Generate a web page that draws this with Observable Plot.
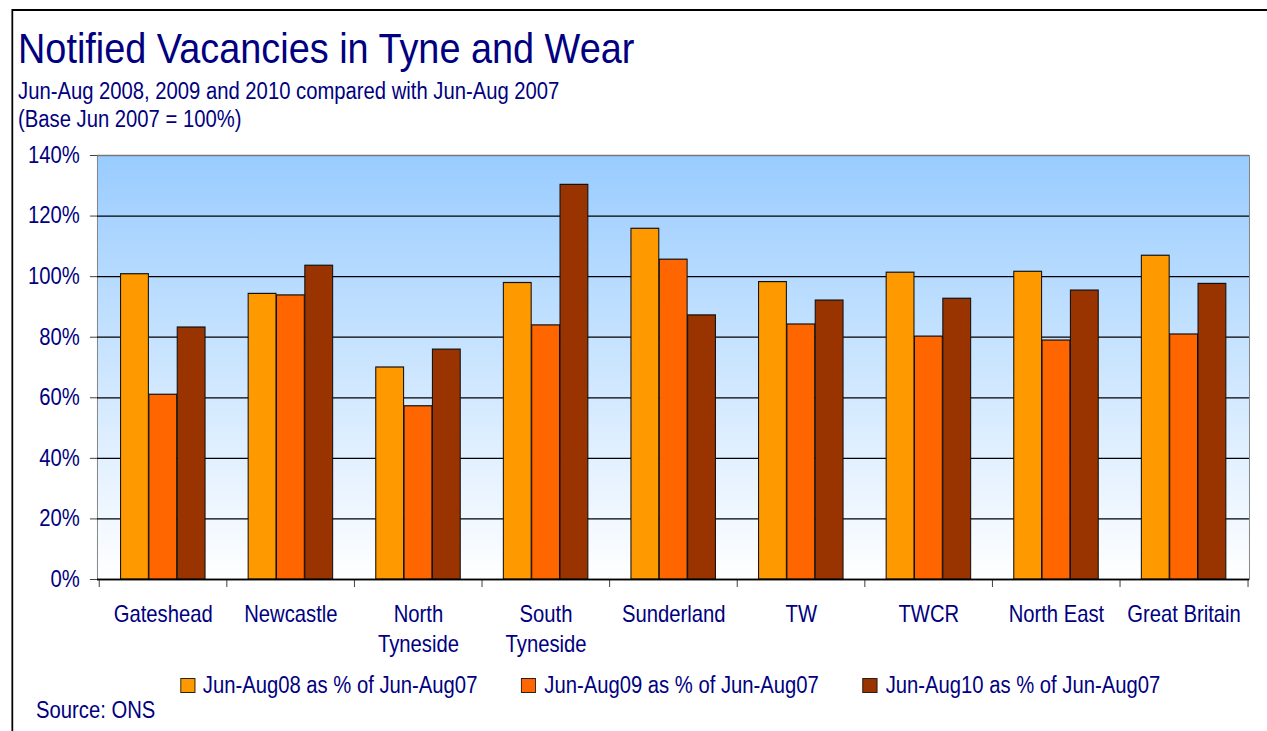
<!DOCTYPE html>
<html>
<head>
<meta charset="utf-8">
<script src="https://cdn.jsdelivr.net/npm/d3@7"></script>
<script src="https://cdn.jsdelivr.net/npm/@observablehq/plot@0.6"></script>
<style>
  html, body { margin: 0; padding: 0; background: #fff; overflow: hidden; }
  #page { position: relative; width: 1440px; height: 731px; transform: scaleX(0.88); transform-origin: 0 0;
          font-family: "Liberation Sans", Arial, sans-serif; color: #000080; }
  .abs { position: absolute; white-space: nowrap; }
  #frameTop { position: absolute; left: 13.6px; top: 9px; right: 0; height: 0; border-top: 2px solid #000; }
  #frameLeft { position: absolute; left: 13px; top: 9px; bottom: 0; width: 0; border-left: 2px solid #000; }
  #title { left: 20.5px; top: 26.6px; font-size: 43px; line-height: 43px; }
  #sub1 { left: 20.5px; top: 79.5px; font-size: 23px; line-height: 23px; }
  #sub2 { left: 20.5px; top: 107.5px; font-size: 23px; line-height: 23px; }
  #chart { position: absolute; left: 0; top: 135px; }
  #legend { position: absolute; left: 204.5px; top: 673.5px; display: flex; gap: 50px; font-size: 23px; line-height: 23px; }
  .item { display: flex; align-items: center; gap: 9px; }
  .sw { width: 15px; height: 13px; border: 1px solid #222; }
  #source { left: 41px; top: 698.5px; font-size: 23px; line-height: 23px; }
</style>
</head>
<body>
<svg width="0" height="0" style="position:absolute">
  <defs>
    <linearGradient id="bggrad" x1="0" y1="0" x2="0" y2="1">
      <stop offset="0%" stop-color="#99CCFF"/>
      <stop offset="100%" stop-color="#FFFFFF"/>
    </linearGradient>
  </defs>
</svg>
<div id="page">
  <div id="frameTop"></div>
  <div id="frameLeft"></div>
  <div id="title" class="abs">Notified Vacancies in Tyne and Wear</div>
  <div id="sub1" class="abs">Jun-Aug 2008, 2009 and 2010 compared with Jun-Aug 2007</div>
  <div id="sub2" class="abs">(Base Jun 2007 = 100%)</div>
  <div id="chart"></div>
  <div id="legend"></div>
  <div id="source" class="abs">Source: ONS</div>
</div>
<script>
// ---- data ----
const categories = ["Gateshead", "Newcastle", "North\nTyneside", "South\nTyneside", "Sunderland", "TW", "TWCR", "North East", "Great Britain"];
const seriesNames = ["Jun-Aug08 as % of Jun-Aug07", "Jun-Aug09 as % of Jun-Aug07", "Jun-Aug10 as % of Jun-Aug07"];
const jun08 = [100.8, 94.3, 70.0, 97.9, 115.8, 98.2, 101.3, 101.6, 106.9];
const jun09 = [61.0, 93.8, 57.2, 83.9, 105.6, 84.2, 80.2, 78.9, 80.9];
const jun10 = [83.2, 103.6, 75.9, 130.3, 87.2, 92.1, 92.7, 95.4, 97.6];
const yTicks = [0, 20, 40, 60, 80, 100, 120, 140];
const seriesColors = ["#FF9900", "#FF6600", "#993300"];

// ---- layout ----
const W = 1440, H = 535;
const mL = 110.2, mR = 20.7, mT = 20, mB = 91;
const padInner = 0.336;
const step = (W - mL - mR) / categories.length;
const third = step * (1 - padInner) / 3;

const series = [jun08, jun09, jun10];
const marks = [
  Plot.frame({fill: "url(#bggrad)", stroke: "#777"}),
  Plot.ruleY(yTicks.filter(d => d < 140), {stroke: "#000", strokeWidth: 1.3}),
  Plot.ruleY([140], {stroke: "#777", strokeWidth: 1.3})
];
series.forEach((vals, i) => {
  const rows = categories.map((c, j) => ({cat: c, value: vals[j]}));
  marks.push(Plot.barY(rows, {
    x: "cat", y: "value", fill: seriesColors[i], stroke: "#111", strokeWidth: 1.2,
    insetLeft: i * third, insetRight: (2 - i) * third
  }));
});
marks.push(
  Plot.axisY({ticks: yTicks, tickSize: 8, tickPadding: 12, tickFormat: d => d + "%",
              fontSize: 23, fill: "#000080", stroke: "#333"}),
  Plot.axisX({ticks: categories, tickSize: 8, dx: -step / 2, tickFormat: () => "", stroke: "#333"}),
  Plot.axisX({ticks: [categories[categories.length - 1]], tickSize: 8, dx: step / 2, tickFormat: () => "", stroke: "#333"}),
  Plot.axisX({tickSize: 0, tickPadding: 21, fontSize: 23, lineHeight: 1.3, fill: "#000080"}),
  Plot.ruleY([0], {stroke: "#000", strokeWidth: 1.5})
);

const chart = Plot.plot({
  width: W, height: H,
  marginLeft: mL, marginRight: mR, marginTop: mT, marginBottom: mB,
  style: {fontFamily: '"Liberation Sans", Arial, sans-serif', background: "transparent", overflow: "visible"},
  x: {type: "band", domain: categories, paddingInner: padInner, paddingOuter: padInner / 2, label: null},
  y: {domain: [0, 140], label: null},
  marks
});
document.getElementById("chart").appendChild(chart);

// ---- legend ----
const legend = document.getElementById("legend");
seriesNames.forEach((name, i) => {
  const item = document.createElement("div");
  item.className = "item";
  const sw = document.createElement("div");
  sw.className = "sw";
  sw.style.background = seriesColors[i];
  const t = document.createElement("span");
  t.textContent = name;
  item.appendChild(sw);
  item.appendChild(t);
  legend.appendChild(item);
});
</script>
</body>
</html>
